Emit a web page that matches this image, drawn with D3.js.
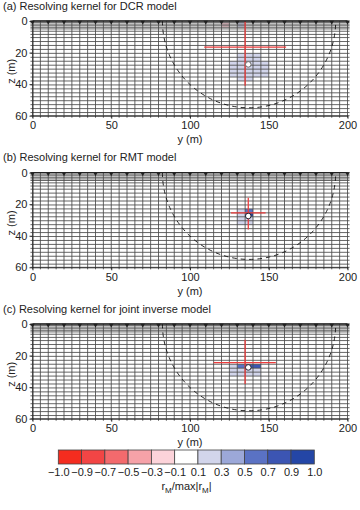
<!DOCTYPE html>
<html>
<head>
<meta charset="utf-8">
<script src="https://cdn.jsdelivr.net/npm/d3@7"></script>
<style>
    body {margin: 0; background: #fff;}
    svg {font-family: "Liberation Sans", Arial, sans-serif; display: block;}
    .axis path, .axis line {stroke: #222; stroke-width: 0.9px;}
    .axis text {fill: #222; font-size: 11px;}
    .ttl {fill: #222; font-size: 11px;}
</style>
</head>
<body>
<div id="chart"></div>
<script>

    // mesh cell boundaries (m)
    let yMesh = [0, 5, 10, 15, 20, 25, 30, 35, 40, 45, 50, 55, 60, 65, 70, 75, 80, 85, 90, 95, 100,
        105, 110, 115, 120, 125, 130, 135, 140, 145, 150, 155, 160, 165, 170, 175, 180, 185, 190, 195, 200];
    let zMesh = [0, 1, 2, 3, 4, 5, 6.5, 8.5, 10.5, 13, 15.5, 18, 20.5, 23, 25.5, 28, 30.5, 33, 35.5,
        38, 40.5, 43, 45.5, 48, 50.5, 53, 55.5, 58, 60];
    let electrodes = [0, 10, 20, 30, 40, 50, 60, 70, 80, 90, 100, 110, 120, 130, 140, 150, 160, 170, 180, 190, 200];

    let yTicks = [0, 50, 100, 150, 200];
    let zTicks = [0, 20, 40, 60];

    let titles = ["(a) Resolving kernel for DCR model",
        "(b) Resolving kernel for RMT model",
        "(c) Resolving kernel for joint inverse model"];

    // resolving kernel cells: y0, y1, z0, z1, value
    let kernelA = [
        [120, 125, 1, 4, -0.2],
        [130, 135, 0, 4, 0.2],
        [130, 145, 20.5, 25.5, 0.2],
        [125, 150, 25.5, 35.5, 0.2],
        [130, 140, 35.5, 38, 0.2]
    ];
    let kernelB = [
        [130, 135, 23, 28, 0.2],
        [135, 140, 23, 25.5, 0.6],
        [135, 140, 25.5, 28, 1.0],
        [130, 140, 28, 33, 0.2]
    ];
    let kernelC = [
        [125, 130, 25.5, 33, 0.2],
        [130, 135, 25.5, 28, 0.6],
        [135, 145, 25.5, 28, 0.8],
        [130, 145, 28, 33, 0.2]
    ];
    let kernels = [kernelA, kernelB, kernelC];

    // resolution lengths: vertical line (y, zTop, zBot), horizontal line (z, yLeft, yRight)
    let crosses = [
        {vy: 135, vz0: 0, vz1: 41, hz: 16.5, hy0: 109, hy1: 161},
        {vy: 137, vz0: 16, vz1: 36, hz: 25.5, hy0: 126, hy1: 148},
        {vy: 135, vz0: 10, vz1: 38, hz: 24.5, hy0: 115, hy1: 154.5}
    ];

    let target = {y: 137, z: 27.5};
    let doi = {center: 137.5, radius: 55};

    let cbLabels = ["\u22121.0", "\u22120.9", "\u22120.7", "\u22120.5", "\u22120.3", "\u22120.1",
        "0.1", "0.3", "0.5", "0.7", "0.9", "1.0"];
    let cbBreaks = [-0.9, -0.7, -0.5, -0.3, -0.1, 0.1, 0.3, 0.5, 0.7, 0.9];
    let cbColors = ["#f42c1f", "#f24545", "#f36a6d", "#f6a2a8", "#fcd3da", "#ffffff",
        "#d2d5eb", "#9ca8d8", "#5a72c4", "#3c55b3", "#2446a6"];

    let width = 360, height = 510;
    let panelTops = [21, 172.6, 324], panelH = 94.7;

    let svg = d3.select("#chart").append("svg")
        .attr("width", width)
        .attr("height", height);

    let x = d3.scaleLinear().domain([0, 200]).range([32.5, 347.5]);
    let color = d3.scaleThreshold().domain(cbBreaks).range(cbColors);

    kernels.forEach(function(cells, i) {
        let top = panelTops[i];
        let z = d3.scaleLinear().domain([0, 60]).range([0, panelH]);

        let g = svg.append("g").attr("transform", "translate(0," + top + ")");

        svg.append("text")
            .attr("class", "ttl")
            .attr("x", 3)
            .attr("y", top - 11.5)
            .text(titles[i]);

        g.selectAll("rect.cell")
            .data(cells)
            .enter().append("rect")
            .attr("class", "cell")
            .attr("x", d => x(d[0]))
            .attr("y", d => z(d[2]))
            .attr("width", d => x(d[1]) - x(d[0]))
            .attr("height", d => z(d[3]) - z(d[2]))
            .style("fill", d => color(d[4]));

        // mesh
        g.selectAll("line.v")
            .data(yMesh)
            .enter().append("line")
            .attr("x1", d => x(d)).attr("x2", d => x(d))
            .attr("y1", z(0)).attr("y2", z(61.3))
            .style("stroke", "#4a4a4a").style("stroke-width", 0.85);

        g.selectAll("line.h")
            .data(zMesh)
            .enter().append("line")
            .attr("x1", x(-1.3)).attr("x2", x(201.3))
            .attr("y1", d => z(d)).attr("y2", d => z(d))
            .style("stroke", "#4a4a4a").style("stroke-width", 0.85);

        // depth of investigation
        let rx = x(doi.radius) - x(0), ry = z(doi.radius) - z(0);
        g.append("path")
            .attr("d", "M" + x(doi.center - doi.radius) + "," + z(0) +
                " A" + rx + "," + ry + " 0 0 0 " + x(doi.center + doi.radius) + "," + z(0))
            .style("fill", "none")
            .style("stroke", "#111")
            .style("stroke-width", 0.9)
            .style("stroke-dasharray", "4.5,4");

        // resolution cross
        let c = crosses[i];
        g.append("line")
            .attr("x1", x(c.vy)).attr("x2", x(c.vy))
            .attr("y1", z(c.vz0)).attr("y2", z(c.vz1))
            .style("stroke", "#ee3d3d").style("stroke-width", 1.3);
        g.append("line")
            .attr("x1", x(c.hy0)).attr("x2", x(c.hy1))
            .attr("y1", z(c.hz)).attr("y2", z(c.hz))
            .style("stroke", "#ee3d3d").style("stroke-width", 1.3);

        g.append("circle")
            .attr("cx", x(target.y))
            .attr("cy", z(target.z))
            .attr("r", 2.8)
            .style("fill", "#fff")
            .style("stroke", i === 0 ? "#666" : "#223")
            .style("stroke-width", 1);

        // electrodes
        g.selectAll("path.el")
            .data(electrodes)
            .enter().append("path")
            .attr("d", d3.symbol().type(d3.symbolTriangle).size(9))
            .attr("transform", d => "translate(" + x(d) + "," + z(0.6) + ") rotate(180)")
            .style("fill", "#222");

        g.append("line")
            .attr("x1", x(0)).attr("x2", x(200))
            .attr("y1", z(0)).attr("y2", z(0))
            .style("stroke", "#222").style("stroke-width", 1.3);

        g.append("g")
            .attr("class", "axis")
            .attr("transform", "translate(" + x(0) + ",0)")
            .call(d3.axisLeft(z).tickValues(zTicks).tickSize(3).tickPadding(2).tickSizeOuter(0));

        g.append("g")
            .attr("class", "axis")
            .attr("transform", "translate(0," + z(60) + ")")
            .call(d3.axisBottom(x).tickValues(yTicks).tickSize(3).tickPadding(3).tickSizeOuter(0));

        g.append("text")
            .attr("class", "ttl")
            .attr("text-anchor", "middle")
            .attr("x", (x(0) + x(200)) / 2)
            .attr("y", panelH + 27.5)
            .text("y (m)");

        g.append("text")
            .attr("class", "ttl")
            .attr("text-anchor", "middle")
            .attr("transform", "translate(15," + (panelH / 2 + 3) + ") rotate(-90)")
            .text("z (m)");
    });

    // colour bar
    let cb = d3.scalePoint().domain(cbLabels).range([58.3, 314.3]);
    let cbTop = 450, cbH = 14;
    let cbg = svg.append("g");

    cbg.selectAll("rect")
        .data(cbColors)
        .enter().append("rect")
        .attr("x", (d, i) => cb(cbLabels[i]))
        .attr("y", cbTop)
        .attr("width", (d, i) => cb(cbLabels[i + 1]) - cb(cbLabels[i]))
        .attr("height", cbH)
        .style("fill", d => d)
        .style("stroke", "#444")
        .style("stroke-width", 0.8);

    svg.append("g")
        .attr("class", "axis")
        .attr("transform", "translate(0," + (cbTop + cbH) + ")")
        .call(d3.axisBottom(cb).tickSize(0).tickPadding(4))
        .call(g => g.select(".domain").remove());

    let lab = svg.append("text")
        .attr("class", "ttl")
        .attr("text-anchor", "middle")
        .attr("x", 186.5)
        .attr("y", 490);
    lab.append("tspan").text("r");
    lab.append("tspan").attr("dy", 2.5).style("font-size", "8px").text("M");
    lab.append("tspan").attr("dy", -2.5).text("/max|r");
    lab.append("tspan").attr("dy", 2.5).style("font-size", "8px").text("M");
    lab.append("tspan").attr("dy", -2.5).text("|");

</script>
</body>
</html>
